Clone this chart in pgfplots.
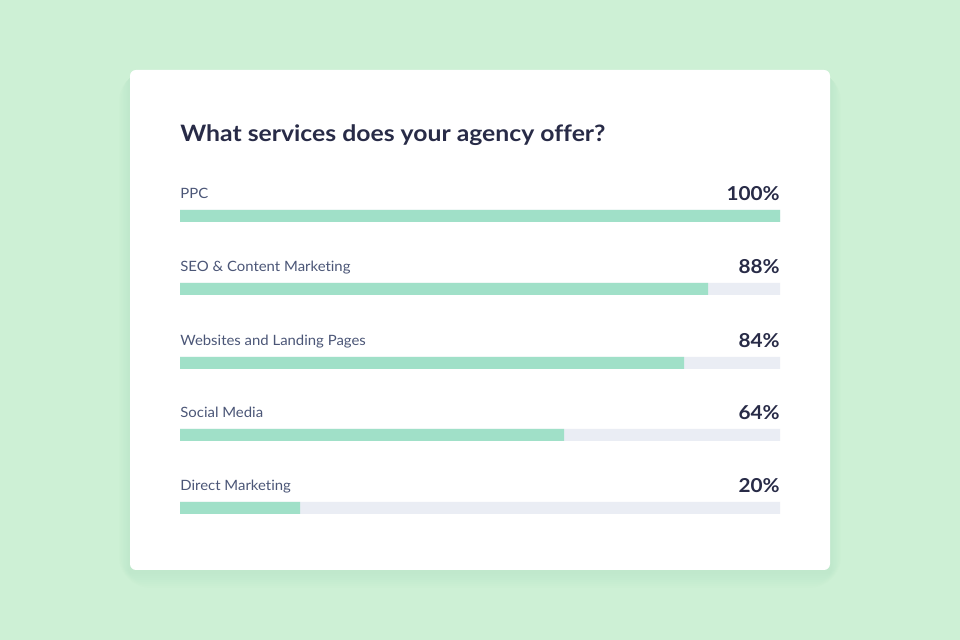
\documentclass[border=0pt]{standalone}
\usepackage{pgfplots}
\pgfplotsset{compat=1.18}
\usepackage{fontspec}
\setmainfont{Lato}[Ligatures=NoCommon]
\newfontfamily\titlefont{Lato}[FakeStretch=1.095,Ligatures=NoCommon]
\newfontfamily\labfont{Lato}[FakeStretch=1.05,Ligatures=NoCommon]
\newfontfamily\pctfont{Lato}[FakeStretch=1.08,Ligatures=NoCommon]
\definecolor{bgc}{HTML}{CDF0D5}
\definecolor{barc}{HTML}{A0E0C8}
\definecolor{trackc}{HTML}{EAEDF4}
\definecolor{titlec}{HTML}{282B47}
\definecolor{labc}{HTML}{4B5677}
\definecolor{shc}{HTML}{6FA87E}
\begin{document}
\begin{tikzpicture}
\begin{scope}[shift={(0pt,320pt)},x=0.5pt,y=-0.5pt]
% background (px coordinates, y down)
\fill[bgc] (0,0) rectangle (960,640);
% soft shadow
\foreach \i in {16,14,...,2}{
  \fill[shc,opacity=0.012,rounded corners=\i] (130-\i*0.7,70+8-\i*0.5) rectangle (830+\i*0.7,570+\i+2);
}
% card
\fill[white,rounded corners=3] (130,70) rectangle (830,570);
\node[anchor=base west,inner sep=0pt,font=\fontsize{11.3}{13}\selectfont\titlefont\bfseries,text=titlec] at (180,141.5) {What services does your agency offer?};
\end{scope}
\begin{axis}[
  at={(90pt,320pt)}, anchor=origin,
  scale only axis, width=300pt, height=320pt,
  xmin=0, xmax=100, ymin=0, ymax=640, y dir=reverse,
  axis lines=none, ticks=none, clip=false,
  xbar, bar width=6pt, bar shift=0pt,
]
\addplot[fill=trackc, draw=none] coordinates {(100,216) (100,289) (100,363) (100,435) (100,508)};
\addplot[fill=barc, draw=none] coordinates {(100,216) (88,289) (84,363) (64,435) (20,508)};
\begin{scope}[every node/.style={inner sep=0pt}]
\node[anchor=base west,font=\fontsize{7.1}{8}\selectfont\labfont,text=labc] at (axis cs:0,199) {PPC};
\node[anchor=base west,font=\fontsize{7.1}{8}\selectfont\labfont,text=labc] at (axis cs:0,272) {SEO \& Content Marketing};
\node[anchor=base west,font=\fontsize{7.1}{8}\selectfont\labfont,text=labc] at (axis cs:0,346) {Websites and Landing Pages};
\node[anchor=base west,font=\fontsize{7.1}{8}\selectfont\labfont,text=labc] at (axis cs:0,418) {Social Media};
\node[anchor=base west,font=\fontsize{7.1}{8}\selectfont\labfont,text=labc] at (axis cs:0,491) {Direct Marketing};
\node[anchor=base east,font=\fontsize{9.6}{11}\selectfont\pctfont\bfseries,text=titlec] at (axis cs:100,200.7) {100\%};
\node[anchor=base east,font=\fontsize{9.6}{11}\selectfont\pctfont\bfseries,text=titlec] at (axis cs:100,273.7) {88\%};
\node[anchor=base east,font=\fontsize{9.6}{11}\selectfont\pctfont\bfseries,text=titlec] at (axis cs:100,347.7) {84\%};
\node[anchor=base east,font=\fontsize{9.6}{11}\selectfont\pctfont\bfseries,text=titlec] at (axis cs:100,419.7) {64\%};
\node[anchor=base east,font=\fontsize{9.6}{11}\selectfont\pctfont\bfseries,text=titlec] at (axis cs:100,492.7) {20\%};
\end{scope}
\end{axis}
\end{tikzpicture}
\end{document}
